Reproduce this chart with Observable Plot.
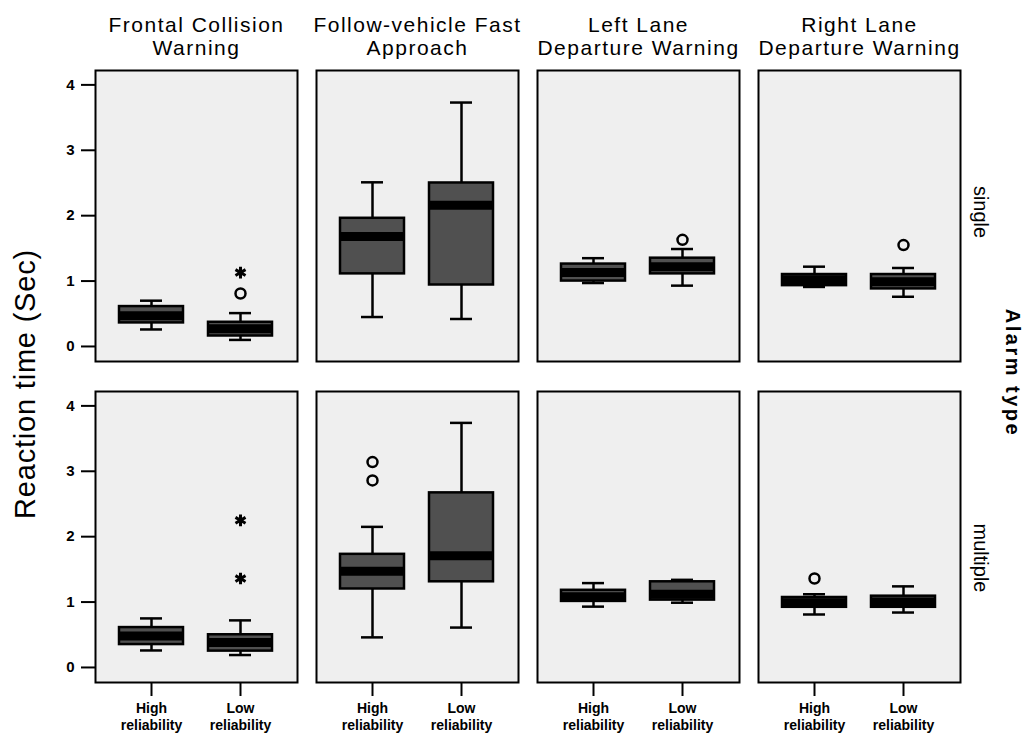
<!DOCTYPE html>
<html><head><meta charset="utf-8">
<script src="https://cdn.jsdelivr.net/npm/d3@7"></script>
<script src="https://cdn.jsdelivr.net/npm/@observablehq/plot@0.6"></script>
<style>
body{margin:0;background:#fff;}
svg{font-family:"Liberation Sans",Arial,sans-serif;}
</style>
</head><body><div id="chart"></div>
<script>
// Categories
const alarms = ["Frontal Collision Warning", "Follow-vehicle Fast Approach", "Left Lane Departure Warning", "Right Lane Departure Warning"];
const alarmLabels = ["Frontal Collision\nWarning", "Follow-vehicle Fast\nApproach", "Left Lane\nDeparture Warning", "Right Lane\nDeparture Warning"];
const alarmTypes = ["single", "multiple"];
const reliabilities = ["High reliability", "Low reliability"];
const reliabilityLabels = ["High\nreliability", "Low\nreliability"];
const yTicks = [0, 1, 2, 3, 4];

// Box statistics, ordered: alarm type (single, multiple) × alarm × reliability (High, Low)
const whiskerLow  = [0.26, 0.10, 0.45, 0.42, 0.97, 0.93, 0.91, 0.76,
                     0.26, 0.19, 0.46, 0.61, 0.93, 0.99, 0.81, 0.84];
const q1          = [0.36, 0.16, 1.11, 0.94, 1.00, 1.11, 0.93, 0.88,
                     0.35, 0.25, 1.20, 1.31, 1.01, 1.03, 0.92, 0.92];
const median      = [0.47, 0.27, 1.68, 2.16, 1.13, 1.22, 1.02, 0.99,
                     0.48, 0.38, 1.47, 1.71, 1.08, 1.12, 0.99, 1.00];
const q3          = [0.61, 0.37, 1.96, 2.50, 1.26, 1.35, 1.10, 1.10,
                     0.61, 0.50, 1.73, 2.67, 1.18, 1.31, 1.07, 1.09];
const whiskerHigh = [0.70, 0.51, 2.51, 3.73, 1.35, 1.49, 1.22, 1.20,
                     0.75, 0.72, 2.15, 3.74, 1.29, 1.34, 1.12, 1.24];

// Outliers
const outlierType  = ["single", "single", "single", "single", "multiple", "multiple", "multiple", "multiple", "multiple"];
const outlierAlarm = [0, 0, 2, 3, 0, 0, 1, 1, 3];
const outlierRel   = [1, 1, 1, 1, 1, 1, 0, 0, 0];
const outlierValue = [0.81, 1.13, 1.63, 1.55, 2.25, 1.36, 3.14, 2.86, 1.36];
const outlierShape = ["circle", "asterisk", "circle", "circle", "asterisk", "asterisk", "circle", "circle", "circle"];

const boxes = [];
alarmTypes.forEach((t, ti) => alarms.forEach((a, ai) => reliabilities.forEach((r, ri) => {
  const i = ti * 8 + ai * 2 + ri;
  boxes.push({type: t, alarm: a, rel: r, lo: whiskerLow[i], q1: q1[i], med: median[i], q3: q3[i], hi: whiskerHigh[i]});
})));
const outliers = outlierValue.map((v, i) => ({
  type: outlierType[i], alarm: alarms[outlierAlarm[i]], rel: reliabilities[outlierRel[i]], value: v, shape: outlierShape[i]
}));
const rowLabels = alarmTypes.map(t => ({type: t, alarm: alarms[alarms.length - 1]}));

const F = {fx: "alarm", fy: "type", x: "rel"};

const chart = Plot.plot({
  width: 1034, height: 746,
  marginTop: 70, marginBottom: 63, marginLeft: 94, marginRight: 73,
  style: {background: "white", color: "black", fontFamily: "'Liberation Sans', Arial, sans-serif"},
  fx: {domain: alarms, paddingInner: 0.086, paddingOuter: 0, label: null},
  fy: {domain: alarmTypes, paddingInner: 0.093, paddingOuter: 0, axis: null, label: null},
  x: {domain: reliabilities, paddingInner: 0.28, paddingOuter: 0.27, label: null},
  y: {domain: [-0.23, 4.22], label: null},
  marks: [
    Plot.frame({fill: "#efefef"}),
    Plot.ruleX(boxes, {...F, y1: "lo", y2: "q1", stroke: "black", strokeWidth: 2.5}),
    Plot.ruleX(boxes, {...F, y1: "q3", y2: "hi", stroke: "black", strokeWidth: 2.5}),
    Plot.tickY(boxes, {...F, y: "lo", insetLeft: 21, insetRight: 21, stroke: "black", strokeWidth: 2.5}),
    Plot.tickY(boxes, {...F, y: "hi", insetLeft: 21, insetRight: 21, stroke: "black", strokeWidth: 2.5}),
    Plot.barY(boxes, {...F, y1: "q1", y2: "q3", fill: "#505050", stroke: "black", strokeWidth: 2.5}),
    Plot.tickY(boxes, {...F, y: "med", stroke: "black", strokeWidth: 9}),
    Plot.dot(outliers.filter(d => d.shape === "circle"), {...F, y: "value", symbol: "circle", r: 5, stroke: "black", strokeWidth: 2.5}),
    Plot.dot(outliers.filter(d => d.shape === "asterisk"), {...F, y: "value", symbol: "asterisk", r: 5.5, stroke: "black", strokeWidth: 3}),
    Plot.frame({stroke: "black", strokeWidth: 2}),
    Plot.axisY({ticks: yTicks, tickFormat: d3.format("d"), tickSize: 14, tickPadding: 7, fontSize: 15, fontWeight: "bold", strokeWidth: 2, label: null}),
    Plot.axisX({tickSize: 14, tickPadding: 5, fontSize: 14, fontWeight: "bold", strokeWidth: 2, lineHeight: 1.2,
      tickFormat: d => reliabilityLabels[reliabilities.indexOf(d)], label: null}),
    Plot.axisFx({anchor: "top", tickSize: 0, tickPadding: 16, fontSize: 21, lineHeight: 1.05,
      tickFormat: d => alarmLabels[alarms.indexOf(d)], label: null}),
    Plot.text(rowLabels.filter(d => d.type === "single"), {fx: "alarm", fy: "type", text: "type", frameAnchor: "right",
      textAnchor: "middle", lineAnchor: "middle", rotate: 90, dx: 20, dy: -4, fontSize: 20, ariaLabel: "row-label"}),
    Plot.text(rowLabels.filter(d => d.type === "multiple"), {fx: "alarm", fy: "type", text: "type", frameAnchor: "right",
      textAnchor: "middle", lineAnchor: "middle", rotate: 90, dx: 20, dy: 21, fontSize: 20, ariaLabel: "row-label"})
  ]
});

document.getElementById("chart").appendChild(chart);
const svg = d3.select(chart);
svg.selectAll('g[aria-label="fx-axis tick label"]').attr("letter-spacing", 1.5);
svg.selectAll('g[aria-label="row-label"]').attr("letter-spacing", 3);

svg.append("text")
  .attr("transform", "translate(25,384) rotate(-90)")
  .attr("text-anchor", "middle").attr("dominant-baseline", "central")
  .attr("font-size", 29).attr("letter-spacing", 0.8).attr("fill", "black")
  .text("Reaction time (Sec)");
svg.append("text")
  .attr("transform", "translate(1013,373) rotate(90)")
  .attr("text-anchor", "middle").attr("dominant-baseline", "central")
  .attr("font-size", 20).attr("font-weight", "bold").attr("letter-spacing", 2.5).attr("fill", "black")
  .text("Alarm type");
</script>
</body></html>
